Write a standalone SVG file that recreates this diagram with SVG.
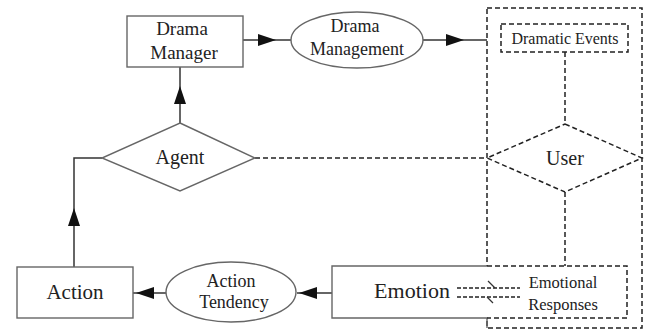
<svg xmlns="http://www.w3.org/2000/svg" width="648" height="333" viewBox="0 0 648 333">
<style>
  .bg{fill:#fff}
  .solid{fill:#fff;stroke:#666;stroke-width:1.4}
  .dash{fill:none;stroke:#222;stroke-width:1.5;stroke-dasharray:5,3}
  .dashw{fill:#fff;stroke:#222;stroke-width:1.5;stroke-dasharray:5,3}
  .line{fill:none;stroke:#333;stroke-width:1.5}
  .t{font-family:"Liberation Serif","Times New Roman",serif;fill:#222;text-anchor:middle}
</style>
<defs>
  <marker id="arr" viewBox="0 0 18 12" refX="18" refY="6" markerWidth="18" markerHeight="12" markerUnits="userSpaceOnUse" orient="auto">
    <path d="M0,0 L18,6 L0,12 z" fill="#111"/>
  </marker>
</defs>
<rect class="bg" x="0" y="0" width="648" height="333"/>

<g id="outer-user-box">
  <rect class="dash" x="487" y="8" width="155" height="320"/>
</g>

<g id="connectors">
  <path class="line" d="M243,40 L276,40" marker-end="url(#arr)"/>
  <path class="line" d="M276,40 L291,40"/>
  <path class="line" d="M423,40 L464,40" marker-end="url(#arr)"/>
  <path class="line" d="M464,40 L487,40"/>
  <path class="line" d="M180,123 L180,86" marker-end="url(#arr)"/>
  <path class="line" d="M180,86 L180,67"/>
  <path class="line" d="M74,267 L74,208" marker-end="url(#arr)"/>
  <path class="line" d="M74,208 L74,158 L102,158"/>
  <path class="line" d="M166,293 L136,293" marker-end="url(#arr)"/>
  <path class="line" d="M136,293 L133,293"/>
  <path class="line" d="M332,293 L299,293" marker-end="url(#arr)"/>
  <path class="line" d="M299,293 L297,293"/>
  <path class="dash" d="M255,158 L487,158"/>
  <path class="dash" d="M565,52 L565,124"/>
  <path class="dash" d="M565,192 L565,266"/>
</g>

<g id="drama-manager">
  <rect class="solid" x="127" y="16" width="116" height="51"/>
  <text class="t" x="182" y="35" font-size="19">Drama</text>
  <text class="t" x="184" y="59" font-size="19">Manager</text>
</g>

<g id="drama-management">
  <ellipse class="solid" cx="357" cy="40" rx="66" ry="28"/>
  <text class="t" x="355" y="32" font-size="18">Drama</text>
  <text class="t" x="357" y="55" font-size="18">Management</text>
</g>

<g id="dramatic-events">
  <rect class="dashw" x="501" y="24" width="127" height="28"/>
  <text class="t" x="565" y="44" font-size="16">Dramatic Events</text>
</g>

<g id="agent">
  <polygon class="solid" points="180,123 255,158 180,191 102,158"/>
  <text class="t" x="180" y="164" font-size="20">Agent</text>
</g>

<g id="user">
  <polygon class="dashw" points="565,124 642,158 565,192 487,158"/>
  <text class="t" x="565" y="165" font-size="20">User</text>
</g>

<g id="action">
  <rect class="solid" x="17" y="267" width="116" height="51"/>
  <text class="t" x="75" y="299" font-size="21">Action</text>
</g>

<g id="action-tendency">
  <ellipse class="solid" cx="231" cy="292" rx="65" ry="30"/>
  <text class="t" x="231" y="287" font-size="18">Action</text>
  <text class="t" x="234" y="308" font-size="18">Tendency</text>
</g>

<g id="emotion">
  <rect x="332" y="266" width="295" height="52" fill="#fff"/>
  <path class="line" style="stroke:#666;stroke-width:1.4" d="M487,266 L332,266 L332,318 L487,318 L487,328"/>
  <text class="t" x="412" y="298" font-size="22">Emotion</text>
</g>

<g id="emotional-responses">
  <path class="dash" d="M487,266 L627,266 L627,318 L487,318"/>
  <text class="t" x="563" y="288" font-size="16.5">Emotional</text>
  <text class="t" x="563" y="310" font-size="16.5">Responses</text>
  <path class="dash" style="stroke-dasharray:4,2;stroke-width:1.3" d="M457,288 L520,288"/>
  <path class="dash" style="stroke-dasharray:4,2;stroke-width:1.3" d="M457,297 L520,297"/>
  <path class="line" style="stroke-width:1.3" d="M488,281 L495,288"/>
  <path class="line" style="stroke-width:1.3" d="M487,297 L493,303"/>
</g>
</svg>
